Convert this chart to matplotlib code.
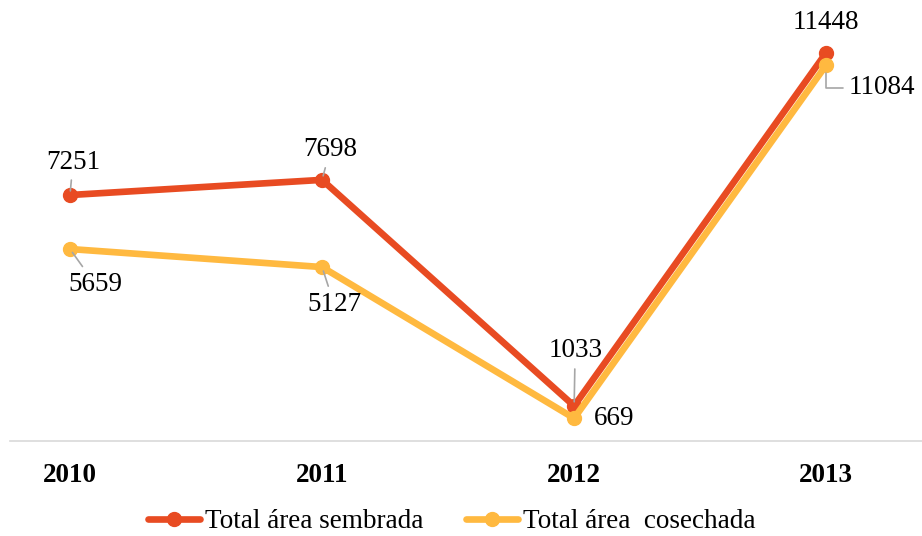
import matplotlib
matplotlib.use("Agg")
import matplotlib.pyplot as plt

years = ["2010", "2011", "2012", "2013"]
sembrada = [7251, 7698, 1033, 11448]
cosechada = [5659, 5127, 669, 11084]
label_sembrada = "Total área sembrada"
label_cosechada = "Total área  cosechada"

red = "#E84B22"
yellow = "#FFB940"
gray = "#A6A6A6"

plt.rcParams['font.family'] = ['Liberation Serif', 'DejaVu Serif']

fig = plt.figure(figsize=(9.22, 5.36), dpi=100)
ax = fig.add_axes([10/922, 1 - 441/536, 1 - 10/922, 441/536])

x = list(range(len(years)))
ax.plot(x, sembrada, color=red, lw=4.8, marker='o', ms=10, label=label_sembrada, zorder=3,
        solid_capstyle='round', solid_joinstyle='round')
ax.plot(x, cosechada, color=yellow, lw=4.8, marker='o', ms=10, label=label_cosechada, zorder=4,
        solid_capstyle='round', solid_joinstyle='round')

ax.set_xlim(-0.238, 3.38)
ax.set_ylim(0, 13000)
ax.set_yticks([])
ax.set_xticks(x)
ax.set_xticklabels(years, fontsize=19.5, fontweight='bold')
ax.tick_params(axis='x', length=0, pad=16)
for s in ['top', 'right', 'left']:
    ax.spines[s].set_visible(False)
ax.spines['bottom'].set_color('#D9D9D9')
ax.spines['bottom'].set_linewidth(1.2)

# label offsets in pixels (dx, dy), with leader flag
sem_off = [(3, 33, True), (8, 30, True), (1, 55, True), (0, 30, False)]
cos_off = [(25, -35, True), (12, -37, True), (40, 0, False), (56, -23, 'elbow')]

def annotate(i, v, off):
    dx, dy, lead = off
    kw = dict(xy=(i, v), xytext=(dx, dy), textcoords='offset pixels',
              ha='center', va='center', fontsize=19.5, zorder=6)
    if lead is False:
        ax.annotate(str(v), **kw)
    elif lead == 'elbow':
        ax.annotate(str(v), **kw,
                    arrowprops=dict(arrowstyle='-', color=gray, lw=1.2,
                                    connectionstyle='angle,angleA=180,angleB=90,rad=0',
                                    shrinkA=2, shrinkB=6))
    else:
        ax.annotate(str(v), **kw,
                    arrowprops=dict(arrowstyle='-', color=gray, lw=1.2,
                                    shrinkA=2, shrinkB=3))

for i, v in enumerate(sembrada):
    annotate(i, v, sem_off[i])
for i, v in enumerate(cosechada):
    annotate(i, v, cos_off[i])

fig.legend(loc='center', bbox_to_anchor=(0.490, 1 - 522/536), ncol=2, frameon=False,
           fontsize=19.5, handlelength=1.9, handletextpad=0.18, columnspacing=1.6,
           borderaxespad=0)

fig.savefig("out.png", dpi=100)
